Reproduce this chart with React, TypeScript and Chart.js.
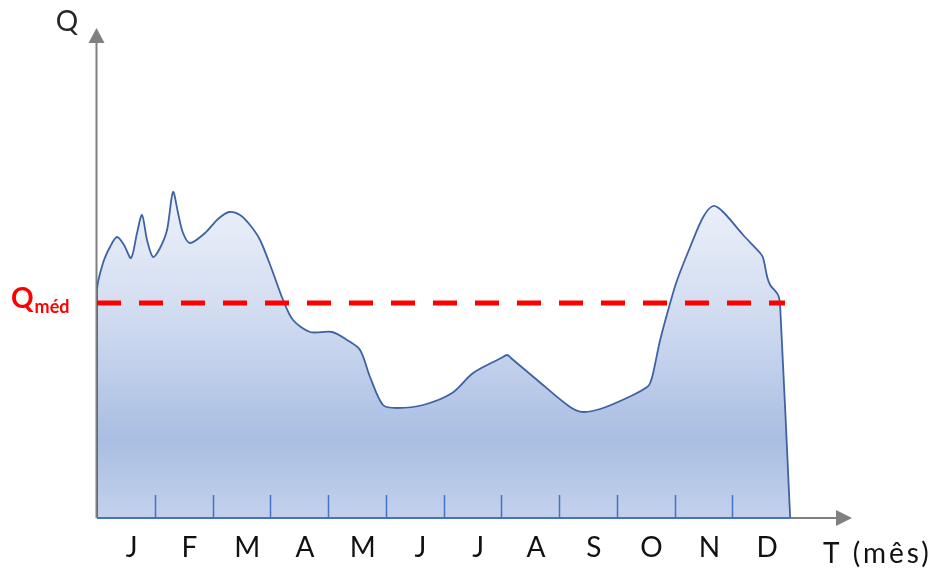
import React, { useEffect, useRef } from "react";
import { Chart, registerables } from "chart.js";

Chart.register(...registerables);

// Month initials (Portuguese)
const MONTHS = ["J", "F", "M", "A", "M", "J", "J", "A", "S", "O", "N", "D"];

// Time in months (0 = start of January, 12 = end of December)
const T_MONTH = [
  0, 0, 0.104, 0.225, 0.346, 0.468, 0.589, 0.693, 0.779, 0.866, 0.97, 1.091,
  1.212, 1.316, 1.403, 1.489, 1.61, 1.87, 2.095, 2.286, 2.476, 2.649, 2.823,
  3.03, 3.221, 3.394, 3.688, 4.069, 4.329, 4.554, 4.727, 4.952, 5.195, 5.645,
  6.147, 6.511, 6.996, 7.1, 7.186, 7.619, 8.19, 8.416, 8.762, 9.281, 9.524,
  9.576, 9.628, 9.749, 9.922, 10.043, 10.268, 10.494, 10.667, 10.84, 11.186,
  11.48, 11.532, 11.602, 11.654, 11.792, 11.827, 12.0,
];

// Discharge Q (arbitrary units)
const FLOW = [
  0, 228, 255, 271, 281, 273, 260, 285, 303, 278, 261, 270,
  288, 326, 305, 285, 275, 285, 299, 306, 303, 293, 278,
  248, 218, 198, 186, 186, 178, 168, 141, 113, 110, 113,
  125, 145, 160, 163, 159, 138, 111, 106, 110, 123, 131,
  135, 145, 178, 215, 238, 271, 301, 312, 306, 283,
  265, 260, 241, 233, 223, 211, 0,
];

const Q_MED = 215;
const Q_MED_END = 11.91;
const X_MAX = 13.07;
const Y_MAX = 490;

const FONT = "Lato, 'Open Sans', sans-serif";

const decor = {
  id: "decor",
  beforeDatasetsDraw(chart: any) {
    const { ctx, scales } = chart;
    const x = scales.x;
    const y = scales.y;
    const x0 = x.getPixelForValue(0);
    const y0 = y.getPixelForValue(0);
    const xEnd = x.getPixelForValue(12);
    const xr = x.right;
    const yt = y.top;
    ctx.save();
    ctx.strokeStyle = "#808080";
    ctx.fillStyle = "#808080";
    ctx.lineWidth = 2;
    // Y axis
    ctx.beginPath();
    ctx.moveTo(x0 - 0.5, y0);
    ctx.lineTo(x0 - 0.5, yt + 12);
    ctx.stroke();
    ctx.beginPath();
    ctx.moveTo(x0 - 0.5, yt);
    ctx.lineTo(x0 - 8.5, yt + 15);
    ctx.lineTo(x0 + 7.5, yt + 15);
    ctx.closePath();
    ctx.fill();
    // X axis (grey part beyond December)
    ctx.beginPath();
    ctx.moveTo(xEnd, y0);
    ctx.lineTo(xr - 14, y0);
    ctx.stroke();
    ctx.beginPath();
    ctx.moveTo(xr, y0);
    ctx.lineTo(xr - 16, y0 - 8);
    ctx.lineTo(xr - 16, y0 + 8);
    ctx.closePath();
    ctx.fill();
    ctx.restore();
  },
  afterDatasetsDraw(chart: any) {
    const { ctx, scales } = chart;
    const x = scales.x;
    const y = scales.y;
    const x0 = x.getPixelForValue(0);
    const y0 = y.getPixelForValue(0);
    const xEnd = x.getPixelForValue(12);
    ctx.save();
    // blue baseline under the area
    ctx.strokeStyle = "#4472C4";
    ctx.lineWidth = 2;
    ctx.beginPath();
    ctx.moveTo(x0, y0);
    ctx.lineTo(xEnd, y0);
    ctx.stroke();
    // month boundary ticks
    ctx.lineWidth = 1.5;
    for (let i = 1; i < 12; i++) {
      const px = Math.round(x.getPixelForValue(i)) + 0.5;
      ctx.beginPath();
      ctx.moveTo(px, y0);
      ctx.lineTo(px, y0 - 23);
      ctx.stroke();
    }
    ctx.restore();
  },
  afterDraw(chart: any) {
    const { ctx, scales } = chart;
    const x = scales.x;
    const y = scales.y;
    const y0 = y.getPixelForValue(0);
    const yMed = y.getPixelForValue(Q_MED);
    const x0 = x.getPixelForValue(0);
    ctx.save();
    ctx.textBaseline = "middle";
    // month labels
    ctx.fillStyle = "#111111";
    ctx.font = `28px ${FONT}`;
    ctx.textAlign = "center";
    MONTHS.forEach((m, i) => {
      ctx.fillText(m, x.getPixelForValue(i + 0.6), y0 + 30);
    });
    // X axis title
    ctx.textAlign = "left";
    (ctx as any).letterSpacing = "3px";
    ctx.fillText("T (mês)", x.right - 29, y0 + 36);
    (ctx as any).letterSpacing = "0px";
    // Y axis title
    ctx.fillStyle = "#262626";
    ctx.textAlign = "center";
    ctx.fillText("Q", x0 - 30, y.top - 6);
    // Q_med label
    ctx.fillStyle = "#FF0000";
    ctx.textAlign = "left";
    ctx.textBaseline = "alphabetic";
    ctx.font = `bold 28px ${FONT}`;
    ctx.fillText("Q", 11, yMed + 5);
    const qw = ctx.measureText("Q").width;
    ctx.font = `bold 18px ${FONT}`;
    ctx.fillText("méd", 11 + qw + 1, yMed + 10);
    ctx.restore();
  },
};

export default function App() {
  const canvasRef = useRef<HTMLCanvasElement | null>(null);

  useEffect(() => {
    if (!canvasRef.current) return;
    const flowData = T_MONTH.map((t, i) => ({ x: t, y: FLOW[i] }));
    const medData = [
      { x: 0, y: Q_MED },
      { x: Q_MED_END, y: Q_MED },
    ];
    const chart = new Chart(canvasRef.current, {
      type: "line",
      data: {
        datasets: [
          {
            label: "Q",
            data: flowData,
            borderColor: "#3F62A3",
            borderWidth: 1.8,
            tension: 0.3,
            pointRadius: 0,
            fill: "origin",
            order: 2,
            backgroundColor: (context: any) => {
              const c = context.chart;
              const area = c.chartArea;
              if (!area) return "#c5d4ee";
              const g = c.ctx.createLinearGradient(0, 190, 0, area.bottom);
              g.addColorStop(0, "#eef2fa");
              g.addColorStop(0.35, "#d4def1");
              g.addColorStop(0.76, "#a9bee3");
              g.addColorStop(1, "#c3d1ec");
              return g;
            },
          },
          {
            label: "Qméd",
            data: medData,
            borderColor: "#FF0000",
            borderWidth: 5,
            borderDash: [24, 18],
            borderCapStyle: "butt",
            pointRadius: 0,
            fill: false,
            order: 1,
          },
        ],
      },
      options: {
        animation: false,
        responsive: true,
        maintainAspectRatio: false,
        layout: { padding: { left: 97, top: 28, right: 85, bottom: 56 } },
        plugins: {
          legend: { display: false },
          tooltip: { enabled: false },
        },
        scales: {
          x: { type: "linear", min: 0, max: X_MAX, display: false },
          y: { type: "linear", min: 0, max: Y_MAX, display: false },
        },
      },
      plugins: [decor],
    });
    return () => chart.destroy();
  }, []);

  return (
    <div
      style={{
        position: "fixed",
        left: 0,
        top: 0,
        width: 937,
        height: 574,
        background: "#ffffff",
      }}
    >
      <canvas ref={canvasRef} />
    </div>
  );
}
